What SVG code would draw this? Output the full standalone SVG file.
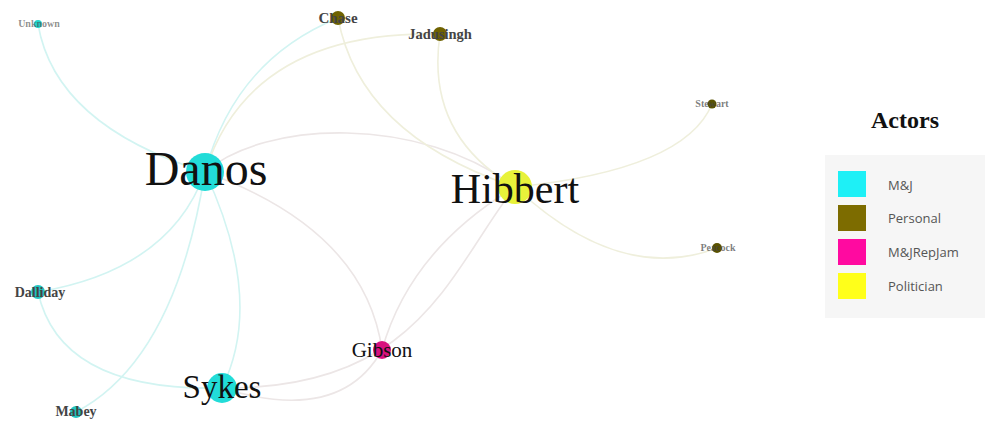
<svg xmlns="http://www.w3.org/2000/svg" width="985" height="421" viewBox="0 0 985 421">
  <style>
    .edge { fill: none; stroke-width: 1.6; }
    .mj { stroke: #d2f4f2; }
    .pol { stroke: #efefdc; }
    .mix { stroke: #ece6e6; }
    .lbl { font-family: "Liberation Serif", "Times New Roman", serif; fill: #111; }
    .sm { font-family: "Liberation Serif", "Times New Roman", serif; font-weight: bold; fill: #444; }
    .leg { font-family: "Open Sans", "Liberation Sans", sans-serif; font-size: 13px; fill: #555; }
  </style>
  <rect width="985" height="421" fill="#ffffff"/>

  <!-- connectors -->
  <g id="edges">
    <path class="edge mj" d="M38,24 Q55,125 205,172"/>
    <path class="edge mj" d="M205,172 Q235,60 338,18"/>
    <path class="edge pol" d="M205,172 Q250,30 440,34"/>
    <path class="edge mix" d="M205,172 C265,120 420,115 515,187"/>
    <path class="edge pol" d="M338,18 Q360,135 515,187"/>
    <path class="edge pol" d="M440,34 Q425,135 515,187"/>
    <path class="edge pol" d="M515,187 Q685,170 712,104"/>
    <path class="edge pol" d="M515,187 Q620,285 717,248"/>
    <path class="edge mj" d="M205,172 Q170,270 38,292"/>
    <path class="edge mj" d="M205,172 Q175,360 76,412"/>
    <path class="edge mj" d="M205,172 Q265,300 222,388"/>
    <path class="edge mix" d="M205,172 Q365,230 382,350"/>
    <path class="edge mix" d="M515,187 Q410,250 382,350"/>
    <path class="edge mix" d="M515,187 C450,270 420,390 222,388"/>
    <path class="edge mj" d="M38,292 Q60,392 222,388"/>
    <path class="edge mix" d="M222,388 Q340,425 382,350"/>
  </g>

  <!-- nodes -->
  <g id="node-unknown">
    <circle cx="38" cy="24" r="4" fill="#22d6cc"/>
    <text class="sm" x="39" y="27" font-size="10" text-anchor="middle" fill-opacity="0.6">Unknown</text>
  </g>
  <g id="node-chase">
    <circle cx="338" cy="18" r="7" fill="#6f6200"/>
    <text class="sm" x="338" y="23" font-size="15" text-anchor="middle">Chase</text>
  </g>
  <g id="node-jadusingh">
    <circle cx="440" cy="34" r="7" fill="#6f6200"/>
    <text class="sm" x="440" y="39" font-size="14.5" text-anchor="middle">Jadusingh</text>
  </g>
  <g id="node-stewart">
    <circle cx="712" cy="104" r="4.5" fill="#5a5200"/>
    <text class="sm" x="712" y="107" font-size="10" text-anchor="middle" fill-opacity="0.7">Stewart</text>
  </g>
  <g id="node-peacock">
    <circle cx="717" cy="248" r="5" fill="#5a5200"/>
    <text class="sm" x="718" y="251" font-size="10" text-anchor="middle" fill-opacity="0.7">Peacock</text>
  </g>
  <g id="node-danos">
    <circle cx="205" cy="172" r="19" fill="#22dcd8"/>
    <text class="lbl" x="206" y="185" font-size="48" text-anchor="middle">Danos</text>
  </g>
  <g id="node-hibbert">
    <circle cx="515" cy="187" r="17" fill="#e8f23a"/>
    <text class="lbl" x="515" y="203" font-size="42" text-anchor="middle">Hibbert</text>
  </g>
  <g id="node-dalliday">
    <circle cx="38" cy="292" r="7" fill="#22c4c0"/>
    <text class="sm" x="40" y="297" font-size="14" text-anchor="middle">Dalliday</text>
  </g>
  <g id="node-mabey">
    <circle cx="76" cy="412" r="6" fill="#22c4c0"/>
    <text class="sm" x="76" y="416" font-size="14" text-anchor="middle">Mabey</text>
  </g>
  <g id="node-sykes">
    <circle cx="222" cy="388" r="15" fill="#22dcd8"/>
    <text class="lbl" x="222" y="398" font-size="33" text-anchor="middle">Sykes</text>
  </g>
  <g id="node-gibson">
    <circle cx="382" cy="350" r="9" fill="#d8127e"/>
    <text class="lbl" x="382" y="357" font-size="21" text-anchor="middle" fill="#333">Gibson</text>
  </g>

  <!-- legend -->
  <g id="legend">
    <text x="905" y="128" font-family="Liberation Serif, Times New Roman, serif" font-weight="bold" font-size="24" text-anchor="middle" fill="#111">Actors</text>
    <rect x="825" y="155" width="160" height="163" fill="#f6f6f6"/>
    <rect x="838" y="171" width="28" height="26" fill="#1ef0f6"/>
    <rect x="838" y="205" width="28" height="26" fill="#7d6c00"/>
    <rect x="838" y="239" width="28" height="26" fill="#ff0aa0"/>
    <rect x="838" y="273" width="28" height="26" fill="#ffff1a"/>
    <text class="leg" x="888" y="190">M&amp;J</text>
    <text class="leg" x="888" y="223">Personal</text>
    <text class="leg" x="888" y="257">M&amp;JRepJam</text>
    <text class="leg" x="888" y="291">Politician</text>
  </g>
</svg>
